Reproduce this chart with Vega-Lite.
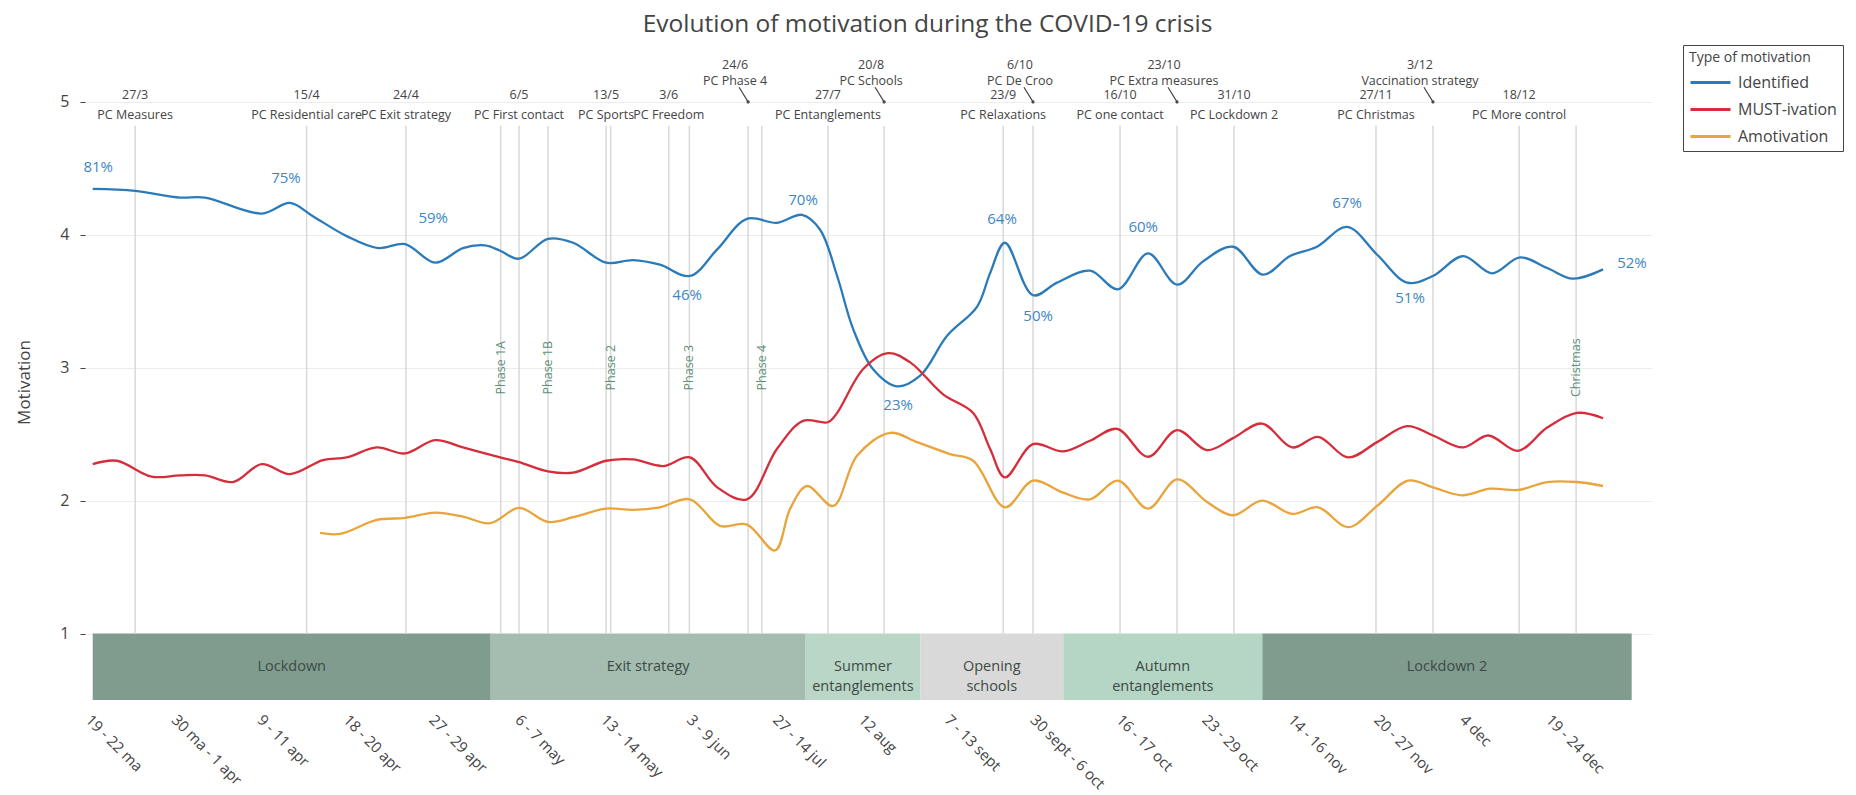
{
  "$schema": "https://vega.github.io/schema/vega-lite/v6.json",
  "width": 1567,
  "height": 638,
  "autosize": {"type": "none"},
  "padding": {"left": 85, "top": 62, "right": 204, "bottom": 95},
  "background": "white",
  "config": {"font": "Open Sans", "view": {"stroke": null}},
  "title": {"text": "Evolution of motivation during the COVID-19 crisis", "fontSize": 24.5, "fontWeight": "normal", "color": "#444", "anchor": "middle", "frame": "group", "dx": 59, "offset": 7},
  "datasets": {
    "bands": [
      {"start": 0, "end": 13.9, "phase": "Lockdown"},
      {"start": 13.9, "end": 24.9, "phase": "Exit strategy"},
      {"start": 24.9, "end": 28.9, "phase": "Summer\nentanglements"},
      {"start": 28.9, "end": 33.9, "phase": "Opening\nschools"},
      {"start": 33.9, "end": 40.85, "phase": "Autumn\nentanglements"},
      {"start": 40.85, "end": 53.75, "phase": "Lockdown 2"}
    ],
    "pc": [
      {"x": 1.48, "date": "27/3", "label": "PC Measures", "arrow": false},
      {"x": 7.47, "date": "15/4", "label": "PC Residential care", "arrow": false},
      {"x": 10.94, "date": "24/4", "label": "PC Exit strategy", "arrow": false},
      {"x": 14.89, "date": "6/5", "label": "PC First contact", "arrow": false},
      {"x": 17.93, "date": "13/5", "label": "PC Sports", "arrow": false},
      {"x": 20.12, "date": "3/6", "label": "PC Freedom", "arrow": false},
      {"x": 22.89, "date": "24/6", "label": "PC Phase 4", "arrow": true},
      {"x": 25.68, "date": "27/7", "label": "PC Entanglements", "arrow": false},
      {"x": 27.64, "date": "20/8", "label": "PC Schools", "arrow": true},
      {"x": 31.8, "date": "23/9", "label": "PC Relaxations", "arrow": false},
      {"x": 32.84, "date": "6/10", "label": "PC De Croo", "arrow": true},
      {"x": 35.88, "date": "16/10", "label": "PC one contact", "arrow": false},
      {"x": 37.87, "date": "23/10", "label": "PC Extra measures", "arrow": true},
      {"x": 39.86, "date": "31/10", "label": "PC Lockdown 2", "arrow": false},
      {"x": 44.82, "date": "27/11", "label": "PC Christmas", "arrow": false},
      {"x": 46.81, "date": "3/12", "label": "Vaccination strategy", "arrow": true},
      {"x": 49.82, "date": "18/12", "label": "PC More control", "arrow": false}
    ],
    "phases": [
      {"x": 14.25, "label": "Phase 1A"},
      {"x": 15.9, "label": "Phase 1B"},
      {"x": 18.09, "label": "Phase 2"},
      {"x": 20.84, "label": "Phase 3"},
      {"x": 23.37, "label": "Phase 4"},
      {"x": 51.81, "label": "Christmas"}
    ],
    "pct": [
      {"x": 0.19, "y": 4.51, "label": "81%"},
      {"x": 6.75, "y": 4.425, "label": "75%"},
      {"x": 11.89, "y": 4.13, "label": "59%"},
      {"x": 20.76, "y": 3.55, "label": "46%"},
      {"x": 24.81, "y": 4.26, "label": "70%"},
      {"x": 28.13, "y": 2.72, "label": "23%"},
      {"x": 31.76, "y": 4.12, "label": "64%"},
      {"x": 33.02, "y": 3.39, "label": "50%"},
      {"x": 36.69, "y": 4.06, "label": "60%"},
      {"x": 43.81, "y": 4.24, "label": "67%"},
      {"x": 46.01, "y": 3.525, "label": "51%"},
      {"x": 53.76, "y": 3.79, "label": "52%"}
    ],
    "series": [
      {"type": "Identified", "x": 0, "y": 4.345},
      {"type": "Identified", "x": 1.48, "y": 4.33},
      {"type": "Identified", "x": 3.05, "y": 4.28},
      {"type": "Identified", "x": 3.92, "y": 4.28},
      {"type": "Identified", "x": 5.9, "y": 4.16},
      {"type": "Identified", "x": 6.89, "y": 4.24},
      {"type": "Identified", "x": 7.69, "y": 4.14},
      {"type": "Identified", "x": 8.87, "y": 3.99},
      {"type": "Identified", "x": 9.97, "y": 3.9},
      {"type": "Identified", "x": 10.91, "y": 3.93},
      {"type": "Identified", "x": 11.96, "y": 3.79},
      {"type": "Identified", "x": 12.93, "y": 3.9},
      {"type": "Identified", "x": 13.7, "y": 3.92},
      {"type": "Identified", "x": 14.23, "y": 3.88},
      {"type": "Identified", "x": 14.89, "y": 3.82},
      {"type": "Identified", "x": 15.9, "y": 3.97},
      {"type": "Identified", "x": 16.78, "y": 3.94},
      {"type": "Identified", "x": 17.93, "y": 3.79},
      {"type": "Identified", "x": 18.87, "y": 3.81},
      {"type": "Identified", "x": 19.81, "y": 3.775},
      {"type": "Identified", "x": 20.86, "y": 3.69},
      {"type": "Identified", "x": 21.81, "y": 3.89},
      {"type": "Identified", "x": 22.85, "y": 4.12},
      {"type": "Identified", "x": 23.9, "y": 4.09},
      {"type": "Identified", "x": 24.77, "y": 4.15},
      {"type": "Identified", "x": 25.4, "y": 4.04},
      {"type": "Identified", "x": 26.0, "y": 3.69},
      {"type": "Identified", "x": 26.56, "y": 3.29},
      {"type": "Identified", "x": 27.25, "y": 2.99},
      {"type": "Identified", "x": 28.09, "y": 2.86},
      {"type": "Identified", "x": 28.9, "y": 2.94},
      {"type": "Identified", "x": 29.84, "y": 3.24},
      {"type": "Identified", "x": 30.89, "y": 3.46},
      {"type": "Identified", "x": 31.34, "y": 3.71},
      {"type": "Identified", "x": 31.86, "y": 3.94},
      {"type": "Identified", "x": 32.84, "y": 3.545},
      {"type": "Identified", "x": 33.68, "y": 3.64},
      {"type": "Identified", "x": 34.83, "y": 3.73},
      {"type": "Identified", "x": 35.81, "y": 3.59},
      {"type": "Identified", "x": 36.86, "y": 3.86},
      {"type": "Identified", "x": 37.87, "y": 3.625},
      {"type": "Identified", "x": 38.78, "y": 3.8},
      {"type": "Identified", "x": 39.83, "y": 3.91},
      {"type": "Identified", "x": 40.87, "y": 3.7},
      {"type": "Identified", "x": 41.82, "y": 3.84},
      {"type": "Identified", "x": 42.76, "y": 3.91},
      {"type": "Identified", "x": 43.81, "y": 4.06},
      {"type": "Identified", "x": 44.86, "y": 3.85},
      {"type": "Identified", "x": 45.91, "y": 3.64},
      {"type": "Identified", "x": 46.81, "y": 3.69},
      {"type": "Identified", "x": 47.86, "y": 3.84},
      {"type": "Identified", "x": 48.87, "y": 3.71},
      {"type": "Identified", "x": 49.85, "y": 3.83},
      {"type": "Identified", "x": 50.8, "y": 3.75},
      {"type": "Identified", "x": 51.7, "y": 3.67},
      {"type": "Identified", "x": 52.75, "y": 3.74},
      {"type": "MUST-ivation", "x": 0, "y": 2.275},
      {"type": "MUST-ivation", "x": 0.84, "y": 2.3},
      {"type": "MUST-ivation", "x": 2.06, "y": 2.18},
      {"type": "MUST-ivation", "x": 3.05, "y": 2.19},
      {"type": "MUST-ivation", "x": 3.92, "y": 2.19},
      {"type": "MUST-ivation", "x": 4.9, "y": 2.14},
      {"type": "MUST-ivation", "x": 5.9, "y": 2.275},
      {"type": "MUST-ivation", "x": 6.89, "y": 2.2},
      {"type": "MUST-ivation", "x": 8.04, "y": 2.305},
      {"type": "MUST-ivation", "x": 8.87, "y": 2.325},
      {"type": "MUST-ivation", "x": 9.92, "y": 2.4},
      {"type": "MUST-ivation", "x": 10.91, "y": 2.355},
      {"type": "MUST-ivation", "x": 11.96, "y": 2.455},
      {"type": "MUST-ivation", "x": 12.93, "y": 2.4},
      {"type": "MUST-ivation", "x": 14.23, "y": 2.325},
      {"type": "MUST-ivation", "x": 14.89, "y": 2.29},
      {"type": "MUST-ivation", "x": 15.9, "y": 2.22},
      {"type": "MUST-ivation", "x": 16.78, "y": 2.21},
      {"type": "MUST-ivation", "x": 17.93, "y": 2.3},
      {"type": "MUST-ivation", "x": 18.87, "y": 2.31},
      {"type": "MUST-ivation", "x": 19.92, "y": 2.26},
      {"type": "MUST-ivation", "x": 20.86, "y": 2.325},
      {"type": "MUST-ivation", "x": 21.81, "y": 2.1},
      {"type": "MUST-ivation", "x": 22.85, "y": 2.01},
      {"type": "MUST-ivation", "x": 23.9, "y": 2.39},
      {"type": "MUST-ivation", "x": 24.81, "y": 2.6},
      {"type": "MUST-ivation", "x": 25.68, "y": 2.59},
      {"type": "MUST-ivation", "x": 26.0, "y": 2.66},
      {"type": "MUST-ivation", "x": 26.91, "y": 2.99},
      {"type": "MUST-ivation", "x": 27.78, "y": 3.11},
      {"type": "MUST-ivation", "x": 28.55, "y": 3.04},
      {"type": "MUST-ivation", "x": 29.7, "y": 2.8},
      {"type": "MUST-ivation", "x": 30.75, "y": 2.66},
      {"type": "MUST-ivation", "x": 31.34, "y": 2.39},
      {"type": "MUST-ivation", "x": 31.86, "y": 2.175},
      {"type": "MUST-ivation", "x": 32.84, "y": 2.425},
      {"type": "MUST-ivation", "x": 33.89, "y": 2.37},
      {"type": "MUST-ivation", "x": 34.83, "y": 2.45},
      {"type": "MUST-ivation", "x": 35.78, "y": 2.54},
      {"type": "MUST-ivation", "x": 36.86, "y": 2.33},
      {"type": "MUST-ivation", "x": 37.87, "y": 2.53},
      {"type": "MUST-ivation", "x": 38.92, "y": 2.38},
      {"type": "MUST-ivation", "x": 39.83, "y": 2.47},
      {"type": "MUST-ivation", "x": 40.84, "y": 2.58},
      {"type": "MUST-ivation", "x": 41.89, "y": 2.4},
      {"type": "MUST-ivation", "x": 42.8, "y": 2.48},
      {"type": "MUST-ivation", "x": 43.84, "y": 2.325},
      {"type": "MUST-ivation", "x": 44.86, "y": 2.44},
      {"type": "MUST-ivation", "x": 45.91, "y": 2.56},
      {"type": "MUST-ivation", "x": 46.81, "y": 2.49},
      {"type": "MUST-ivation", "x": 47.86, "y": 2.4},
      {"type": "MUST-ivation", "x": 48.74, "y": 2.49},
      {"type": "MUST-ivation", "x": 49.78, "y": 2.375},
      {"type": "MUST-ivation", "x": 50.8, "y": 2.55},
      {"type": "MUST-ivation", "x": 51.84, "y": 2.66},
      {"type": "MUST-ivation", "x": 52.75, "y": 2.62},
      {"type": "Amotivation", "x": 7.94, "y": 1.7575},
      {"type": "Amotivation", "x": 8.64, "y": 1.75},
      {"type": "Amotivation", "x": 9.92, "y": 1.855},
      {"type": "Amotivation", "x": 10.91, "y": 1.87},
      {"type": "Amotivation", "x": 11.96, "y": 1.91},
      {"type": "Amotivation", "x": 12.93, "y": 1.88},
      {"type": "Amotivation", "x": 13.88, "y": 1.83},
      {"type": "Amotivation", "x": 14.89, "y": 1.945},
      {"type": "Amotivation", "x": 15.9, "y": 1.84},
      {"type": "Amotivation", "x": 16.78, "y": 1.875},
      {"type": "Amotivation", "x": 17.93, "y": 1.94},
      {"type": "Amotivation", "x": 18.87, "y": 1.93},
      {"type": "Amotivation", "x": 19.81, "y": 1.95},
      {"type": "Amotivation", "x": 20.86, "y": 2.01},
      {"type": "Amotivation", "x": 21.91, "y": 1.81},
      {"type": "Amotivation", "x": 22.85, "y": 1.82},
      {"type": "Amotivation", "x": 23.83, "y": 1.625},
      {"type": "Amotivation", "x": 24.36, "y": 1.94},
      {"type": "Amotivation", "x": 24.95, "y": 2.11},
      {"type": "Amotivation", "x": 25.86, "y": 1.96},
      {"type": "Amotivation", "x": 26.7, "y": 2.34},
      {"type": "Amotivation", "x": 27.85, "y": 2.51},
      {"type": "Amotivation", "x": 28.79, "y": 2.44},
      {"type": "Amotivation", "x": 29.94, "y": 2.35},
      {"type": "Amotivation", "x": 30.75, "y": 2.3},
      {"type": "Amotivation", "x": 31.86, "y": 1.95},
      {"type": "Amotivation", "x": 32.84, "y": 2.15},
      {"type": "Amotivation", "x": 33.89, "y": 2.06},
      {"type": "Amotivation", "x": 34.83, "y": 2.01},
      {"type": "Amotivation", "x": 35.81, "y": 2.15},
      {"type": "Amotivation", "x": 36.86, "y": 1.94},
      {"type": "Amotivation", "x": 37.87, "y": 2.16},
      {"type": "Amotivation", "x": 38.92, "y": 1.99},
      {"type": "Amotivation", "x": 39.83, "y": 1.89},
      {"type": "Amotivation", "x": 40.84, "y": 2.0},
      {"type": "Amotivation", "x": 41.89, "y": 1.9},
      {"type": "Amotivation", "x": 42.8, "y": 1.95},
      {"type": "Amotivation", "x": 43.84, "y": 1.8},
      {"type": "Amotivation", "x": 44.86, "y": 1.96},
      {"type": "Amotivation", "x": 45.94, "y": 2.15},
      {"type": "Amotivation", "x": 46.81, "y": 2.1},
      {"type": "Amotivation", "x": 47.83, "y": 2.04},
      {"type": "Amotivation", "x": 48.81, "y": 2.09},
      {"type": "Amotivation", "x": 49.78, "y": 2.08},
      {"type": "Amotivation", "x": 50.8, "y": 2.14},
      {"type": "Amotivation", "x": 51.84, "y": 2.14},
      {"type": "Amotivation", "x": 52.75, "y": 2.11}
    ]
  },
  "layer": [
    {
      "data": {"name": "bands"},
      "mark": {"type": "rect"},
      "encoding": {
        "x": {"field": "start", "type": "quantitative", "scale": {"domain": [-0.27, 54.46], "nice": false, "zero": false}},
        "x2": {"field": "end"},
        "y": {"datum": 0.5, "type": "quantitative", "scale": {"domain": [0.5, 5.3], "nice": false, "zero": false}},
        "y2": {"datum": 1},
        "fill": {"field": "phase", "type": "nominal", "legend": null,
          "scale": {"domain": ["Lockdown", "Exit strategy", "Summer\nentanglements", "Opening\nschools", "Autumn\nentanglements", "Lockdown 2"],
                    "range": ["#7f9c8f", "#a5bdb1", "#b9d6c7", "#d9d9d9", "#b5d5c5", "#7f9c8f"]}}
      }
    },
    {
      "data": {"name": "bands"},
      "transform": [{"calculate": "(datum.start + datum.end) / 2", "as": "mid"}],
      "mark": {"type": "text", "fontSize": 14.5, "color": "#3d4a44", "lineBreak": "\n", "lineHeight": 20, "align": "center", "baseline": "middle"},
      "encoding": {
        "x": {"field": "mid", "type": "quantitative", "scale": {"domain": [-0.27, 54.46], "nice": false, "zero": false}},
        "y": {"datum": 0.745, "type": "quantitative", "scale": {"domain": [0.5, 5.3], "nice": false, "zero": false}},
        "text": {"field": "phase"}
      }
    },
    {
      "data": {"name": "pc"},
      "mark": {"type": "rule", "color": "#d8d8d8", "strokeWidth": 1.5},
      "encoding": {
        "x": {"field": "x", "type": "quantitative", "scale": {"domain": [-0.27, 54.46], "nice": false, "zero": false}},
        "y": {"datum": 1, "type": "quantitative", "scale": {"domain": [0.5, 5.3], "nice": false, "zero": false}},
        "y2": {"datum": 4.82}
      }
    },
    {
      "data": {"name": "phases"},
      "mark": {"type": "rule", "color": "#d8d8d8", "strokeWidth": 1.5},
      "encoding": {
        "x": {"field": "x", "type": "quantitative", "scale": {"domain": [-0.27, 54.46], "nice": false, "zero": false}},
        "y": {"datum": 1, "type": "quantitative", "scale": {"domain": [0.5, 5.3], "nice": false, "zero": false}},
        "y2": {"datum": 4.82}
      }
    },
    {
      "data": {"name": "phases"},
      "mark": {"type": "text", "angle": 270, "align": "center", "baseline": "middle", "fontSize": 12.5, "color": "#5e8f77"},
      "encoding": {
        "x": {"field": "x", "type": "quantitative", "scale": {"domain": [-0.27, 54.46], "nice": false, "zero": false}},
        "y": {"datum": 3, "type": "quantitative", "scale": {"domain": [0.5, 5.3], "nice": false, "zero": false}},
        "text": {"field": "label"}
      }
    },
    {
      "data": {"name": "pc"},
      "transform": [{"filter": "!datum.arrow"}],
      "mark": {"type": "text", "align": "center", "baseline": "middle", "fontSize": 12.5, "color": "#444"},
      "encoding": {
        "x": {"field": "x", "type": "quantitative", "scale": {"domain": [-0.27, 54.46], "nice": false, "zero": false}},
        "y": {"datum": 5.05, "type": "quantitative", "scale": {"domain": [0.5, 5.3], "nice": false, "zero": false}},
        "text": {"field": "date"}
      }
    },
    {
      "data": {"name": "pc"},
      "transform": [{"filter": "!datum.arrow"}],
      "mark": {"type": "text", "align": "center", "baseline": "middle", "fontSize": 12.5, "color": "#444"},
      "encoding": {
        "x": {"field": "x", "type": "quantitative", "scale": {"domain": [-0.27, 54.46], "nice": false, "zero": false}},
        "y": {"datum": 4.904, "type": "quantitative", "scale": {"domain": [0.5, 5.3], "nice": false, "zero": false}},
        "text": {"field": "label"}
      }
    },
    {
      "data": {"name": "pc"},
      "transform": [{"filter": "datum.arrow"}],
      "mark": {"type": "text", "align": "center", "baseline": "middle", "fontSize": 12.5, "color": "#444", "dx": -13},
      "encoding": {
        "x": {"field": "x", "type": "quantitative", "scale": {"domain": [-0.27, 54.46], "nice": false, "zero": false}},
        "y": {"datum": 5.28, "type": "quantitative", "scale": {"domain": [0.5, 5.3], "nice": false, "zero": false}},
        "text": {"field": "date"}
      }
    },
    {
      "data": {"name": "pc"},
      "transform": [{"filter": "datum.arrow"}],
      "mark": {"type": "text", "align": "center", "baseline": "middle", "fontSize": 12.5, "color": "#444", "dx": -13},
      "encoding": {
        "x": {"field": "x", "type": "quantitative", "scale": {"domain": [-0.27, 54.46], "nice": false, "zero": false}},
        "y": {"datum": 5.16, "type": "quantitative", "scale": {"domain": [0.5, 5.3], "nice": false, "zero": false}},
        "text": {"field": "label"}
      }
    },
    {
      "data": {"name": "pc"},
      "transform": [{"filter": "datum.arrow"}],
      "mark": {"type": "rule", "color": "#444", "strokeWidth": 1.2, "xOffset": -9},
      "encoding": {
        "x": {"field": "x", "type": "quantitative", "scale": {"domain": [-0.27, 54.46], "nice": false, "zero": false}},
        "x2": {"field": "x"},
        "y": {"datum": 5.11, "type": "quantitative", "scale": {"domain": [0.5, 5.3], "nice": false, "zero": false}},
        "y2": {"datum": 5.0}
      }
    },
    {
      "data": {"name": "pc"},
      "transform": [{"filter": "datum.arrow"}],
      "mark": {"type": "point", "filled": true, "size": 10, "color": "#444", "opacity": 1},
      "encoding": {
        "x": {"field": "x", "type": "quantitative", "scale": {"domain": [-0.27, 54.46], "nice": false, "zero": false}},
        "y": {"datum": 5.0, "type": "quantitative", "scale": {"domain": [0.5, 5.3], "nice": false, "zero": false}}
      }
    },
    {
      "data": {"name": "series"},
      "mark": {"type": "line", "interpolate": "catmull-rom", "strokeWidth": 2.3},
      "encoding": {
        "x": {"field": "x", "type": "quantitative",
          "scale": {"domain": [-0.27, 54.46], "nice": false, "zero": false},
          "axis": {"values": [0, 3, 6, 9, 12, 15, 18, 21, 24, 27, 30, 33, 36, 39, 42, 45, 48, 51],
            "labelExpr": "['19 - 22 ma','30 ma - 1 apr','9 - 11 apr','18 - 20 apr','27 - 29 apr','6 - 7 may','13 - 14 may','3 - 9 jun','27 - 14 jul','12 aug','7 - 13 sept','30 sept - 6 oct','16 - 17 oct','23 - 29 oct','14 - 16 nov','20 - 27 nov','4 dec','19 - 24 dec'][round(datum.value / 3)]",
            "labelAngle": 45, "labelAlign": "left", "labelBaseline": "top", "labelPadding": 12,
            "labelFontSize": 15, "labelColor": "#444", "labelOverlap": false, "labelBound": false, "labelFlush": false,
            "ticks": false, "domain": false, "grid": false, "title": null}},
        "y": {"field": "y", "type": "quantitative",
          "scale": {"domain": [0.5, 5.3], "nice": false, "zero": false},
          "axis": {"values": [1, 2, 3, 4, 5], "format": "d", "labelFontSize": 16, "labelColor": "#444", "labelPadding": 11,
            "tickSize": 5, "tickColor": "#444", "domain": false, "grid": true, "gridColor": "#ececec", "gridWidth": 1,
            "title": "Motivation", "titleFontSize": 17, "titleFontWeight": "normal", "titleColor": "#444",
            "titleX": -61, "titleY": 320, "titleAngle": 270, "titleAlign": "center", "titleBaseline": "middle"}},
        "color": {"field": "type", "type": "nominal",
          "scale": {"domain": ["Identified", "MUST-ivation", "Amotivation"], "range": ["#2b7bba", "#d62d3b", "#e9a43b"]},
          "legend": {"title": "Type of motivation", "orient": "none", "legendX": 1598, "legendY": -17,
            "titleFontSize": 14, "titleFontWeight": "normal", "titleColor": "#444", "titlePadding": 6,
            "labelFontSize": 16, "labelColor": "#444", "labelOffset": 16,
            "symbolType": "M-2,0H2", "symbolSize": 400, "symbolStrokeWidth": 3, "symbolOffset": 10,
            "rowPadding": 7, "strokeColor": "#444", "fillColor": "white", "padding": 6, "cornerRadius": 0}}
      }
    },
    {
      "data": {"name": "pct"},
      "mark": {"type": "text", "align": "center", "baseline": "middle", "fontSize": 15, "color": "#3d87c4"},
      "encoding": {
        "x": {"field": "x", "type": "quantitative", "scale": {"domain": [-0.27, 54.46], "nice": false, "zero": false}},
        "y": {"field": "y", "type": "quantitative", "scale": {"domain": [0.5, 5.3], "nice": false, "zero": false}},
        "text": {"field": "label"}
      }
    }
  ]
}
